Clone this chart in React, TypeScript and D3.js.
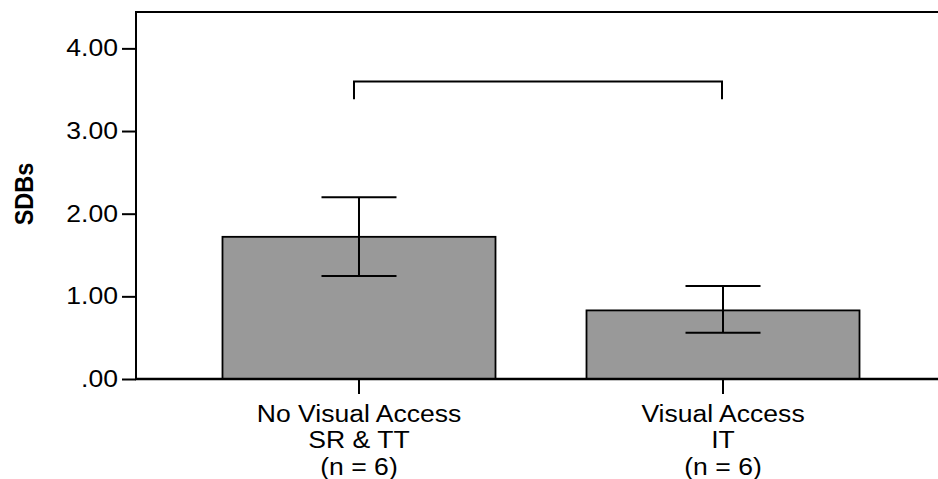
import React, { useEffect, useRef } from "react";
import * as d3 from "d3";

const categories = ["nva", "va"];
const categoryLines = [
    ["No Visual Access", "SR & TT", "(n = 6)"],
    ["Visual Access", "IT", "(n = 6)"],
];
const means = [1.72, 0.83];
const ciLow = [1.245, 0.56];
const ciHigh = [2.2, 1.125];
const yTicks = [0, 1, 2, 3, 4];
const bracketTop = 3.6;
const bracketBottom = 3.385;

const App = () => {
    const ref = useRef<SVGSVGElement>(null);

    useEffect(() => {
        const width = 938;
        const left = 136;
        const top = 12;
        const bottom = 379;
        const font = "'Liberation Sans', Arial, sans-serif";
        const fs = 23.5;
        const stretch = 1.13; // source image is a bit wider than tall

        const svg = d3.select(ref.current);
        svg.selectAll("*").remove();

        const y = d3.scaleLinear().domain([0, 4.44]).range([bottom, top]);
        const x = d3
            .scaleBand()
            .domain(categories)
            .range([left, 946])
            .paddingInner(0.25)
            .paddingOuter(0.2376);

        const data = categories.map((c, i) => ({
            key: c,
            mean: means[i],
            lo: ciLow[i],
            hi: ciHigh[i],
        }));

        // frame (top edge + left axis line)
        svg.append("path")
            .attr("d", `M${left},${bottom}V${top}H${width + 10}`)
            .attr("fill", "none")
            .attr("stroke", "#000")
            .attr("stroke-width", 2);

        // bars
        svg.selectAll("rect.bar")
            .data(data)
            .join("rect")
            .attr("class", "bar")
            .attr("x", (d) => x(d.key)!)
            .attr("y", (d) => y(d.mean))
            .attr("width", x.bandwidth())
            .attr("height", (d) => y(0) - y(d.mean))
            .attr("fill", "#999999")
            .attr("stroke", "#000")
            .attr("stroke-width", 1.8);

        // error bars
        const cap = 37.5;
        const eb = svg.append("g").attr("stroke", "#000").attr("stroke-width", 2).attr("fill", "none");
        data.forEach((d) => {
            const cx = x(d.key)! + x.bandwidth() / 2;
            eb.append("path").attr(
                "d",
                `M${cx},${y(d.hi)}V${y(d.lo)}M${cx - cap},${y(d.hi)}H${cx + cap}M${cx - cap},${y(d.lo)}H${cx + cap}`
            );
        });

        // x axis line
        svg.append("line")
            .attr("x1", left - 1)
            .attr("x2", width + 10)
            .attr("y1", bottom)
            .attr("y2", bottom)
            .attr("stroke", "#000")
            .attr("stroke-width", 2.5);

        // y axis ticks and labels
        const yAxis = svg.append("g")
            .attr("transform", `translate(${left},0)`)
            .call(
                d3.axisLeft(y)
                    .tickValues(yTicks)
                    .tickSize(14)
                    .tickPadding(4)
                    .tickFormat((d) => d3.format(".2f")(d as number).replace(/^0/, ""))
            );
        yAxis.select(".domain").remove();
        yAxis.selectAll("line").attr("stroke-width", 2);
        yAxis.selectAll("text")
            .attr("x", 0)
            .attr("transform", `translate(-18,0) scale(${stretch},1)`)
            .attr("font-family", font)
            .attr("font-size", fs)
            .attr("fill", "#000");

        // x ticks and multi-line labels
        const xg = svg.append("g");
        data.forEach((d, i) => {
            const cx = x(d.key)! + x.bandwidth() / 2;
            xg.append("line")
                .attr("x1", cx)
                .attr("x2", cx)
                .attr("y1", bottom)
                .attr("y2", bottom + 15)
                .attr("stroke", "#000")
                .attr("stroke-width", 2);
            const t = xg.append("text")
                .attr("transform", `translate(${cx},0) scale(${stretch},1)`)
                .attr("text-anchor", "middle")
                .attr("font-family", font)
                .attr("font-size", fs)
                .attr("fill", "#000");
            categoryLines[i].forEach((line, j) => {
                t.append("tspan")
                    .attr("x", 0)
                    .attr("y", 422 + j * 26.5)
                    .text(line);
            });
        });

        // significance bracket
        const bx1 = x(categories[0])! + x.bandwidth() / 2 - 5;
        const bx2 = x(categories[1])! + x.bandwidth() / 2 - 1;
        svg.append("path")
            .attr(
                "d",
                `M${bx1},${y(bracketBottom)}V${y(bracketTop)}H${bx2}V${y(bracketBottom)}`
            )
            .attr("fill", "none")
            .attr("stroke", "#000")
            .attr("stroke-width", 2);

        // y title
        svg.append("text")
            .attr("transform", `translate(33,194) scale(${stretch},1) rotate(-90)`)
            .attr("text-anchor", "middle")
            .attr("font-family", font)
            .attr("font-weight", "bold")
            .attr("font-size", fs)
            .attr("fill", "#000")
            .text("SDBs");
    }, []);

    return (
        <svg
            ref={ref}
            width={938}
            height={479}
            style={{ position: "absolute", left: 0, top: 0, background: "#fff" }}
        />
    );
};

export default App;
